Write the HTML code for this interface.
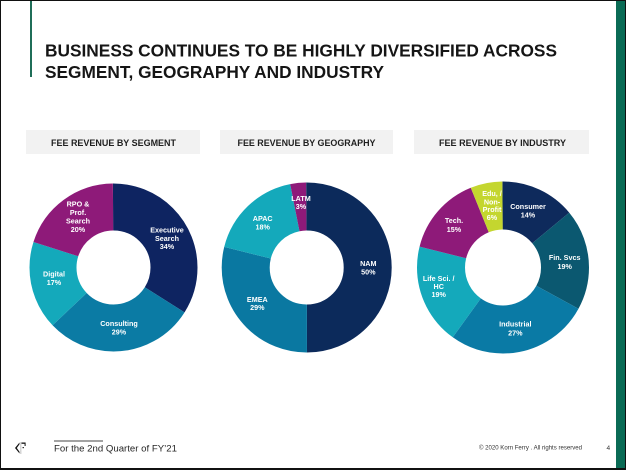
<!DOCTYPE html>
<html>
<head>
<meta charset="utf-8">
<style>
  html, body { margin: 0; padding: 0; background: #ffffff; }
  body { width: 626px; height: 470px; overflow: hidden; }
  svg { display: block; }
  text { font-family: "Liberation Sans", Arial, sans-serif; }
  .lbl { fill: #ffffff; font-weight: bold; font-size: 7.2px; text-anchor: middle; }
  .hdr { fill: #1f1f1f; font-weight: bold; font-size: 9.2px; text-anchor: middle; }
</style>
</head>
<body>
<svg width="626" height="470" viewBox="0 0 626 470" xmlns="http://www.w3.org/2000/svg">
  <!-- background -->
  <rect x="0" y="0" width="626" height="470" fill="#ffffff"/>

  <!-- left green accent line -->
  <rect x="30" y="0" width="2" height="77" fill="#1f6e58"/>

  <!-- right green bar -->
  <rect x="616" y="0" width="9" height="470" fill="#0a6b55"/>

  <!-- outer border -->
  <rect x="0" y="0" width="626" height="1" fill="#111"/>
  <rect x="0" y="0" width="1" height="470" fill="#111"/>
  <rect x="625" y="0" width="1" height="470" fill="#111"/>
  <rect x="0" y="468" width="626" height="2" fill="#111"/>

  <!-- Title -->
  <text x="45" y="56.5" font-size="17.2" font-weight="bold" fill="#151515" textLength="512" lengthAdjust="spacingAndGlyphs">BUSINESS CONTINUES TO BE HIGHLY DIVERSIFIED ACROSS</text>
  <text x="45" y="78" font-size="17.2" font-weight="bold" fill="#151515" textLength="339" lengthAdjust="spacingAndGlyphs">SEGMENT, GEOGRAPHY AND INDUSTRY</text>

  <!-- Header boxes -->
  <rect x="26" y="130" width="174" height="24" fill="#f2f2f2"/>
  <rect x="220" y="130" width="173" height="24" fill="#f2f2f2"/>
  <rect x="414" y="130" width="175" height="24" fill="#f2f2f2"/>
  <text class="hdr" x="113.5" y="145.8" textLength="125" lengthAdjust="spacingAndGlyphs">FEE REVENUE  BY SEGMENT</text>
  <text class="hdr" x="306.5" y="145.8" textLength="138" lengthAdjust="spacingAndGlyphs">FEE REVENUE  BY GEOGRAPHY</text>
  <text class="hdr" x="502.5" y="145.8" textLength="127" lengthAdjust="spacingAndGlyphs">FEE REVENUE  BY INDUSTRY</text>

  <!-- Chart 1: Segment -->
  <g transform="rotate(-90 113.5 267.5)" fill="none" stroke-width="47">
    <circle cx="113.5" cy="267.5" r="60.5" pathLength="100" stroke="#0e2461" stroke-dasharray="34 66" stroke-dashoffset="0"/>
    <circle cx="113.5" cy="267.5" r="60.5" pathLength="100" stroke="#0b7ba4" stroke-dasharray="29 71" stroke-dashoffset="-34"/>
    <circle cx="113.5" cy="267.5" r="60.5" pathLength="100" stroke="#14a9bb" stroke-dasharray="17 83" stroke-dashoffset="-63"/>
    <circle cx="113.5" cy="267.5" r="60.5" pathLength="100" stroke="#8e1a79" stroke-dasharray="20 80" stroke-dashoffset="-80"/>
  </g>
  <text class="lbl" x="78" y="206.5">RPO &amp;</text>
  <text class="lbl" x="78" y="215">Prof.</text>
  <text class="lbl" x="78" y="223.3">Search</text>
  <text class="lbl" x="78" y="231.8">20%</text>
  <text class="lbl" x="167" y="232.5">Executive</text>
  <text class="lbl" x="167" y="240.8">Search</text>
  <text class="lbl" x="167" y="249.2">34%</text>
  <text class="lbl" x="54" y="276.5">Digital</text>
  <text class="lbl" x="54" y="285">17%</text>
  <text class="lbl" x="119" y="325.8">Consulting</text>
  <text class="lbl" x="119" y="334.3">29%</text>

  <!-- Chart 2: Geography -->
  <g transform="rotate(-90 306.7 267.5)" fill="none" stroke-width="48">
    <circle cx="306.7" cy="267.5" r="61" pathLength="100" stroke="#0c2a5b" stroke-dasharray="50 50" stroke-dashoffset="0"/>
    <circle cx="306.7" cy="267.5" r="61" pathLength="100" stroke="#0a78a1" stroke-dasharray="29 71" stroke-dashoffset="-50"/>
    <circle cx="306.7" cy="267.5" r="61" pathLength="100" stroke="#14a9bb" stroke-dasharray="18 82" stroke-dashoffset="-79"/>
    <circle cx="306.7" cy="267.5" r="61" pathLength="100" stroke="#8e1a79" stroke-dasharray="3 97" stroke-dashoffset="-97"/>
  </g>
  <text class="lbl" x="301" y="200.8">LATM</text>
  <text class="lbl" x="301" y="209.2">3%</text>
  <text class="lbl" x="262.7" y="220.8">APAC</text>
  <text class="lbl" x="262.7" y="229.5">18%</text>
  <text class="lbl" x="368.3" y="265.8">NAM</text>
  <text class="lbl" x="368.3" y="274.5">50%</text>
  <text class="lbl" x="257.3" y="301.8">EMEA</text>
  <text class="lbl" x="257.3" y="310.2">29%</text>

  <!-- Chart 3: Industry -->
  <g transform="rotate(-90 503 267.5)" fill="none" stroke-width="48">
    <circle cx="503" cy="267.5" r="62" pathLength="100" stroke="#0e2a5c" stroke-dasharray="14 86" stroke-dashoffset="0"/>
    <circle cx="503" cy="267.5" r="62" pathLength="100" stroke="#0b5870" stroke-dasharray="19 81" stroke-dashoffset="-14"/>
    <circle cx="503" cy="267.5" r="62" pathLength="100" stroke="#0a7aa5" stroke-dasharray="27 73" stroke-dashoffset="-33"/>
    <circle cx="503" cy="267.5" r="62" pathLength="100" stroke="#14a9bb" stroke-dasharray="19 81" stroke-dashoffset="-60"/>
    <circle cx="503" cy="267.5" r="62" pathLength="100" stroke="#8e1a79" stroke-dasharray="15 85" stroke-dashoffset="-79"/>
    <circle cx="503" cy="267.5" r="62" pathLength="100" stroke="#c4d62f" stroke-dasharray="6 94" stroke-dashoffset="-94"/>
  </g>
  <text class="lbl" x="492" y="195.8">Edu, /</text>
  <text class="lbl" x="492" y="204.3">Non-</text>
  <text class="lbl" x="492" y="212.2">Profit</text>
  <text class="lbl" x="492" y="220.2">6%</text>
  <text class="lbl" x="528" y="209.2">Consumer</text>
  <text class="lbl" x="528" y="217.5">14%</text>
  <text class="lbl" x="454" y="223.2">Tech.</text>
  <text class="lbl" x="454" y="231.8">15%</text>
  <text class="lbl" x="564.7" y="260.2">Fin. Svcs</text>
  <text class="lbl" x="564.7" y="268.8">19%</text>
  <text class="lbl" x="438.7" y="280.8">Life Sci. /</text>
  <text class="lbl" x="438.7" y="289.2">HC</text>
  <text class="lbl" x="438.7" y="297.2">19%</text>
  <text class="lbl" x="515.3" y="326.5">Industrial</text>
  <text class="lbl" x="515.3" y="335.5">27%</text>

  <!-- Footer -->
  <!-- logo -->
  <polygon points="19.5,442.5 15,448 19.5,453.5 19.5,451.8 16.8,448 19.5,444.2" fill="#111"/>
  <rect x="20.6" y="442" width="0.6" height="12" fill="#999"/>
  <rect x="21.5" y="442.5" width="4" height="1.3" fill="#111"/>
  <rect x="24.6" y="442.5" width="1" height="3.5" fill="#111"/>
  <rect x="22.5" y="447" width="1.5" height="1.2" fill="#333"/>

  <rect x="54" y="440.5" width="49" height="1" fill="#444"/>
  <text x="54" y="451.5" font-size="9.6" fill="#262626" textLength="123" lengthAdjust="spacingAndGlyphs">For the 2nd Quarter of FY’21</text>
  <text x="479" y="449.5" font-size="6" fill="#333" textLength="103" lengthAdjust="spacingAndGlyphs">© 2020 Korn Ferry . All rights reserved</text>
  <text x="606.5" y="449.8" font-size="6.5" fill="#333">4</text>
</svg>
</body>
</html>
